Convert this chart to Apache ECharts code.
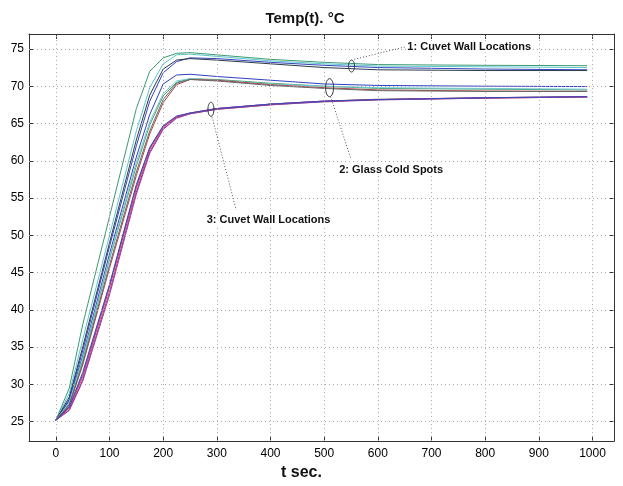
<!DOCTYPE html>
<html><head><meta charset="utf-8">
<script src="https://cdn.jsdelivr.net/npm/echarts@6/dist/echarts.min.js"></script>
<style>html,body{margin:0;padding:0;background:#fff}#c{width:623px;height:486px}</style>
</head><body><div id="c"></div>
<script>
const tickX = [0,100,200,300,400,500,600,700,800,900,1000];
const tickY = [25,30,35,40,45,50,55,60,65,70,75];
const times = [0,25,50,100,150,175,200,225,250,300,400,500,600,800,990];

// Group 1: Cuvet wall locations (upper)
const g1Green = [25.2,29.5,38.0,52.5,67.0,72.0,73.8,74.4,74.5,74.2,73.6,73.2,72.9,72.8,72.75];
const g1Cyan  = [25.2,28.8,36.0,50.0,64.0,69.8,73.0,74.2,74.3,74.0,73.4,73.0,72.7,72.6,72.5];
const g1Blue  = [25.2,28.0,34.5,48.5,62.0,68.0,71.8,73.3,73.8,73.7,73.2,72.8,72.5,72.3,72.2];
const g1Dark  = [25.2,28.3,35.0,49.0,62.8,68.8,72.3,73.5,73.7,73.5,73.0,72.5,72.2,72.1,72.1];
// Group 2: glass cold spots
const g2Blue  = [25.2,27.8,33.8,47.5,60.5,66.2,70.3,71.5,71.6,71.3,70.8,70.3,70.1,70.0,69.95];
const g2Green = [25.2,27.5,33.2,46.8,59.3,64.8,68.7,70.5,71.0,70.9,70.4,70.0,69.7,69.6,69.5];
const g2Cyan  = [25.2,27.6,33.5,47.0,59.8,65.2,69.0,70.7,71.0,70.8,70.3,70.0,69.8,69.7,69.6];
const g2Red   = [25.2,27.2,32.6,45.6,58.0,63.6,67.8,70.2,70.9,70.8,70.2,69.8,69.5,69.35,69.3];
const g2Gray  = [25.2,27.3,32.8,46.0,58.5,64.0,68.2,70.4,70.9,70.7,70.1,69.7,69.4,69.3,69.3];
// Group 3: cuvet wall locations (lower)
const g3Gray    = [25.2,26.9,31.3,43.2,56.6,61.7,64.6,65.9,66.4,67.0,67.6,68.0,68.25,68.45,68.6];
const g3Magenta = [25.2,26.8,31.0,43.0,56.3,61.5,64.5,65.9,66.4,67.0,67.6,68.0,68.2,68.45,68.6];
const g3Red     = [25.2,26.6,30.6,42.4,55.8,61.2,64.3,65.8,66.3,66.9,67.5,67.95,68.2,68.4,68.55];
const g3Purple  = [25.2,26.5,30.4,42.0,55.5,61.0,64.2,65.7,66.3,66.9,67.5,67.9,68.15,68.4,68.55];
const g3Blue    = [25.2,27.0,31.6,43.4,56.8,61.8,64.7,66.0,66.4,67.0,67.6,68.0,68.2,68.45,68.6];

// annotations (data coords)
const annotations = [
  {text:'1: Cuvet Wall Locations', ring:[551,72.7], ringR:[3,6], label:[655,75.3], from:[556,73.6], to:[652,75.3]},
  {text:'2: Glass Cold Spots', ring:[510,69.8], ringR:[4,9], label:[528,58.8], from:[512,68.6], to:[550,60.2]},
  {text:'3: Cuvet Wall Locations', ring:[289,66.9], ringR:[3,7], label:[281,52], from:[291,65.9], to:[336,53.4]}
];

const seriesDefs = [
  ['g3Gray', g3Gray, '#6a6a6a'],
  ['g1Green', g1Green, '#3d9a72'], ['g1Cyan', g1Cyan, '#5cc6cc'], ['g1Blue', g1Blue, '#3344b8'], ['g1Dark', g1Dark, '#2a3a4a'],
  ['g2Blue', g2Blue, '#3040c0'], ['g2Green', g2Green, '#4e9e6c'], ['g2Cyan', g2Cyan, '#6ccad4'], ['g2Red', g2Red, '#b0454a'], ['g2Gray', g2Gray, '#666666'],
  ['g3Magenta', g3Magenta, '#c03aa8'], ['g3Red', g3Red, '#d42a50'], ['g3Purple', g3Purple, '#8a45a8'], ['g3Blue', g3Blue, '#3a48b8']
];

const chart = echarts.init(document.getElementById('c'), null, {renderer:'canvas'});
const FONT = 'Liberation Sans, Arial, Helvetica, sans-serif';
const gridLine = {color:'#a8a8a8', width:1, type:[1,3]};

const series = seriesDefs.map(([name, vals, color]) => ({
  name, type:'line', showSymbol:false, silent:true,
  data: times.map((t,i)=>[t, vals[i]]),
  lineStyle:{color, width:1}, itemStyle:{color}, z:3, animation:false
}));
series.unshift({
  type:'line', data:[], silent:true, animation:false,
  markLine:{
    silent:true, symbol:'none', animation:false,
    label:{show:false},
    lineStyle:gridLine,
    data:[...tickX.map(v=>({xAxis:v})), ...tickY.map(v=>({yAxis:v}))]
  }
});

const fmt = v => String(v);
const axisLine = {show:true, onZero:false, lineStyle:{color:'#333', width:1}};
chart.setOption({
  animation:false,
  backgroundColor:'#fff',
  title:{text:'Temp(t). °C', left:300, top:6, textAlign:'center',
    textStyle:{fontFamily:FONT, fontWeight:'bold', fontSize:15, color:'#111'}},
  grid:{left:29, right:9, top:34, bottom:41},
  xAxis:[{
    type:'value', min:-50, max:1040, position:'bottom',
    axisLine,
    axisTick:{show:true, inside:true, length:5, customValues:tickX, lineStyle:{color:'#333'}},
    axisLabel:{customValues:tickX, formatter:fmt, fontFamily:FONT, fontSize:12, color:'#000', margin:7},
    splitLine:{show:false},
    name:'t sec.', nameLocation:'middle', nameGap:21,
    nameTextStyle:{fontFamily:FONT, fontWeight:'bold', fontSize:16, color:'#111', padding:[0,40,0,0]}
  },{
    type:'value', min:-50, max:1040, position:'top',
    axisLine,
    axisTick:{show:true, inside:true, length:5, customValues:tickX, lineStyle:{color:'#333'}},
    axisLabel:{show:false}, splitLine:{show:false}
  }],
  yAxis:[{
    type:'value', min:22.4, max:77, position:'left',
    axisLine,
    axisTick:{show:true, inside:true, length:5, customValues:tickY, lineStyle:{color:'#333'}},
    axisLabel:{customValues:tickY, formatter:fmt, fontFamily:FONT, fontSize:12, color:'#000', margin:5},
    splitLine:{show:false}
  },{
    type:'value', min:22.4, max:77, position:'right',
    axisLine,
    axisTick:{show:true, inside:true, length:5, customValues:tickY, lineStyle:{color:'#333'}},
    axisLabel:{show:false}, splitLine:{show:false}
  }],
  series
});

const px = p => chart.convertToPixel({xAxisIndex:0, yAxisIndex:0}, p);
const graphics = [];
annotations.forEach(a => {
  const r = px(a.ring), l = px(a.label), f = px(a.from), t = px(a.to);
  graphics.push({type:'ellipse', shape:{cx:r[0], cy:r[1], rx:a.ringR[0], ry:a.ringR[1]},
    style:{fill:null, stroke:'#333', lineWidth:1}, z:10, silent:true});
  graphics.push({type:'line', shape:{x1:f[0], y1:f[1], x2:t[0], y2:t[1]},
    style:{stroke:'#555', lineWidth:1, lineDash:[1,2]}, z:10, silent:true});
  graphics.push({type:'text', x:l[0], y:l[1], z:11, silent:true,
    style:{text:a.text, font:'bold 11px '+FONT, fill:'#111', textVerticalAlign:'middle', verticalAlign:'middle', backgroundColor:'#fff'}});
});
chart.setOption({graphic:graphics});
</script>
</body></html>
